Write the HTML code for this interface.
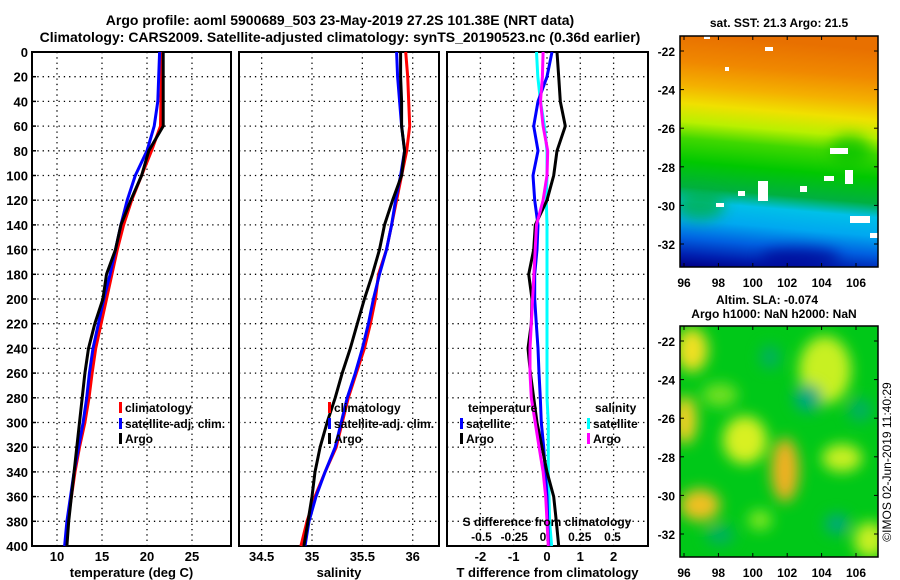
<!DOCTYPE html>
<html><head><meta charset="utf-8">
<style>
html,body{margin:0;padding:0;background:#fff;}
svg{display:block;font-family:"Liberation Sans",sans-serif;font-weight:bold;}
</style></head>
<body>
<svg id="chart" width="900" height="580" viewBox="0 0 900 580" xmlns="http://www.w3.org/2000/svg">
<defs>
<linearGradient id="sstGrad" gradientUnits="userSpaceOnUse" x1="715" y1="36" x2="695" y2="267">
<stop offset="0" stop-color="#e87000"/>
<stop offset="0.12" stop-color="#f08800"/>
<stop offset="0.22" stop-color="#f4b000"/>
<stop offset="0.3" stop-color="#f0e000"/>
<stop offset="0.38" stop-color="#b8f000"/>
<stop offset="0.45" stop-color="#40d800"/>
<stop offset="0.55" stop-color="#00c800"/>
<stop offset="0.66" stop-color="#00b040"/>
<stop offset="0.72" stop-color="#00c0e8"/>
<stop offset="0.8" stop-color="#00a8f0"/>
<stop offset="0.88" stop-color="#0060e0"/>
<stop offset="0.95" stop-color="#0020b0"/>
<stop offset="1" stop-color="#000088"/>
</linearGradient>
<filter id="blur" x="-20%" y="-20%" width="140%" height="140%"><feGaussianBlur stdDeviation="7"/></filter>
<clipPath id="clipTop"><rect x="680" y="36" width="198" height="231"/></clipPath>
<clipPath id="clipBot"><rect x="680" y="326" width="198" height="231"/></clipPath>
</defs>
<text x="340" y="25" text-anchor="middle" font-size="14">Argo profile: aoml 5900689_503 23-May-2019 27.2S 101.38E (NRT data)</text>
<text x="340" y="42" text-anchor="middle" font-size="14">Climatology: CARS2009. Satellite-adjusted climatology: synTS_20190523.nc (0.36d earlier)</text>
<g id="profiles"></g>
<g id="maps"></g>
<text transform="translate(891,462) rotate(-90)" text-anchor="middle" font-size="12" font-weight="normal">©IMOS 02-Jun-2019 11:40:29</text>
</svg>
<script>
const depths=[0,20,40,60,80,100,120,140,160,180,200,220,240,260,280,300,320,340,360,380,400];
const tempClim=[21.6,21.6,21.55,21.5,20.5,19.4,18.3,17.4,16.7,16.1,15.5,14.9,14.3,13.9,13.55,13.1,12.5,12.0,11.6,11.2,10.9];
const tempSat=[21.4,21.3,21.2,20.8,20.0,18.7,17.8,17.1,16.5,15.9,15.2,14.6,14.0,13.6,13.3,12.9,12.4,11.9,11.5,11.1,10.85];
const tempArgo=[21.8,21.8,21.8,21.8,20.2,19.4,18.2,17.1,16.5,15.5,15.1,14.2,13.5,13.1,12.8,12.5,12.2,11.9,11.6,11.3,11.1];
const salClim=[35.93,35.95,35.96,35.97,35.94,35.89,35.84,35.79,35.74,35.66,35.63,35.58,35.52,35.44,35.36,35.3,35.24,35.13,35.03,34.95,34.89];
const salSat=[35.84,35.85,35.87,35.89,35.92,35.88,35.83,35.79,35.74,35.67,35.61,35.56,35.5,35.43,35.35,35.29,35.23,35.13,35.04,34.97,34.93];
const salArgo=[35.88,35.88,35.89,35.89,35.92,35.89,35.80,35.72,35.67,35.6,35.52,35.45,35.38,35.3,35.23,35.15,35.08,35.03,35.0,34.96,34.92];
const dTSat=[0.15,0,-0.27,-0.4,-0.27,-0.42,-0.37,-0.27,-0.3,-0.37,-0.37,-0.32,-0.27,-0.24,-0.2,-0.17,-0.1,-0.05,0,0.02,0.05];
const dTArgo=[0.3,0.35,0.4,0.55,0.3,0.2,0,-0.35,-0.4,-0.55,-0.45,-0.47,-0.57,-0.5,-0.4,-0.3,-0.15,0,0.2,0.28,0.35];
const dSSat=[-0.08,-0.07,-0.05,-0.02,0,0,-0.005,0,0,0,0,0,0,0,0,0.01,0.01,0.01,0.015,0.02,0.035];
const dSArgo=[-0.03,-0.035,-0.05,-0.03,0.005,0,-0.03,-0.08,-0.09,-0.1,-0.11,-0.12,-0.13,-0.13,-0.12,-0.09,-0.06,-0.03,-0.01,0,0.01];
const depthTicks=[0,20,40,60,80,100,120,140,160,180,200,220,240,260,280,300,320,340,360,380,400];
const tempTicks=[10,15,20,25];
const salTicks=[34.5,35,35.5,36];
const dTTicks=[-2,-1,0,1,2];
const dSTicks=[-0.5,-0.25,0,0.25,0.5];
const dSTickLabels=["-0.5","-0.25","0","0.25","0.5"];
const lonTicks=[96,98,100,102,104,106];
const latTicks=[-22,-24,-26,-28,-30,-32];

const NS="http://www.w3.org/2000/svg";
function mk(tag,attrs,parent){const e=document.createElementNS(NS,tag);for(const k in attrs)e.setAttribute(k,attrs[k]);parent.appendChild(e);return e;}
const Y0=52,Y1=546;
const yD=d=>Y0+d/400*(Y1-Y0);
const xT=t=>57+(t-10)*9;
const xS=s=>312+(s-35)*100.7;
const xDT=t=>547+t*33.3;
const xDS=s=>547+s*131;
const G=document.getElementById('profiles');

function panel(x0,x1,name,ticks,xf,labels,ylab){
  const g=mk('g',{},G);
  
  
  depthTicks.forEach(d=>{if(d>0&&d<400){const l=mk('line',{x1:x0,x2:x1,y1:yD(d),y2:yD(d),stroke:'#000','stroke-width':1.3,'stroke-dasharray':'1.3,4'},g);}});
  ticks.forEach((t,i)=>{const x=xf(t);const l=mk('line',{x1:x,x2:x,y1:Y0,y2:Y1,stroke:'#000','stroke-width':1.3,'stroke-dasharray':'1.3,4'},g);
    if(labels){const tx=mk('text',{x:x,y:561,'text-anchor':'middle','font-size':13},g);tx.textContent=labels[i];}});
  const r=mk('rect',{x:x0,y:Y0,width:x1-x0,height:Y1-Y0,fill:'none',stroke:'#000','stroke-width':2},g);
  
  if(ylab){const t=mk('text',{x:(x0+x1)/2,y:577,'text-anchor':'middle','font-size':13},g);t.textContent=ylab;}
  return g;
}
function series(g,vals,xf,color,name){
  const pts=vals.map((v,i)=>xf(v).toFixed(1)+','+yD(depths[i]).toFixed(1)).join(' ');
  const p=mk('polyline',{points:pts,fill:'none',stroke:color,'stroke-width':3,'stroke-linejoin':'round'},g);
  
  
}
function legend(g,x,y,color,label){
  const r=mk('rect',{x:x,y:y-10,width:3,height:11,fill:color},g);
  
  const t=mk('text',{x:x+6,y:y,'font-size':12},g);t.textContent=label;
  
}
depthTicks.forEach(d=>{const t=mk('text',{x:28,y:yD(d)+5,'text-anchor':'end','font-size':13},G);t.textContent=d;
  
  const l=mk('line',{x1:32,x2:36,y1:yD(d),y2:yD(d),stroke:'#000','stroke-width':1.5},G);});

const g1=panel(32,231,'temperature-panel',tempTicks,xT,tempTicks.map(String),'temperature (deg C)');
series(g1,tempClim,xT,'#ff0000','temp-climatology-line');
series(g1,tempSat,xT,'#0000ff','temp-satellite-line');
series(g1,tempArgo,xT,'#000000','temp-argo-line');
legend(g1,119,412,'#ff0000','climatology');legend(g1,119,428,'#0000ff','satellite-adj. clim.');legend(g1,119,443,'#000','Argo');

const g2=panel(239,439,'salinity-panel',salTicks,xS,salTicks.map(String),'salinity');
series(g2,salClim,xS,'#ff0000','sal-climatology-line');
series(g2,salSat,xS,'#0000ff','sal-satellite-line');
series(g2,salArgo,xS,'#000000','sal-argo-line');
legend(g2,328,412,'#ff0000','climatology');legend(g2,328,428,'#0000ff','satellite-adj. clim.');legend(g2,328,443,'#000','Argo');

const g3=panel(447,648,'difference-panel',dTTicks,xDT,dTTicks.map(String),'T difference from climatology');
series(g3,dSSat,xDS,'#00ffff','sal-diff-satellite-line');
series(g3,dTSat,xDT,'#0000ff','temp-diff-satellite-line');
series(g3,dTArgo,xDT,'#000000','temp-diff-argo-line');
series(g3,dSArgo,xDS,'#ff00ff','sal-diff-argo-line');
{const t=mk('text',{x:468,y:412,'font-size':12},g3);t.textContent='temperature';}
{const t=mk('text',{x:595,y:412,'font-size':12},g3);t.textContent='salinity';}
legend(g3,460,428,'#0000ff','satellite');legend(g3,460,443,'#000','Argo');
legend(g3,587,428,'#00ffff','satellite');legend(g3,587,443,'#ff00ff','Argo');
{const t=mk('text',{x:547,y:526,'text-anchor':'middle','font-size':12},g3);t.textContent='S difference from climatology';}
dSTicks.forEach((s,i)=>{const t=mk('text',{x:xDS(s)-(s==0?4:0),y:541,'text-anchor':'middle','font-size':12},g3);t.textContent=dSTickLabels[i];});

const M=document.getElementById('maps');
const lonX=l=>684+(l-96)*17.2;
function mapAxes(top,name){
  const latY=l=>top+15+(-22-l)*19.3;
  const r=mk('rect',{x:680,y:top,width:198,height:231,fill:'none',stroke:'#000','stroke-width':1.5},M);
  
  latTicks.forEach(l=>{const y=latY(l);const t=mk('text',{x:675,y:y+5,'text-anchor':'end','font-size':12},M);t.textContent=l;
    mk('line',{x1:680,x2:684,y1:y,y2:y,stroke:'#000'},M);mk('line',{x1:874,x2:878,y1:y,y2:y,stroke:'#000'},M);});
  lonTicks.forEach(l=>{const x=lonX(l);const t=mk('text',{x:x,y:top+251,'text-anchor':'middle','font-size':12},M);t.textContent=l;
    mk('line',{x1:x,x2:x,y1:top,y2:top+4,stroke:'#000'},M);mk('line',{x1:x,x2:x,y1:top+227,y2:top+231,stroke:'#000'},M);});
}
{const g=mk('g',{'clip-path':'url(#clipTop)'},M);
 mk('rect',{x:680,y:36,width:198,height:231,fill:'url(#sstGrad)'},g);
 const bl=mk('g',{filter:'url(#blur)',opacity:0.7},g);
 [[700,205,25,15,'#00b030'],[850,150,20,15,'#00c000'],[800,258,40,10,'#000090']].forEach(e=>mk('ellipse',{cx:e[0],cy:e[1],rx:e[2],ry:e[3],fill:e[4]},bl));
 const patches=[[758,181,10,20],[830,148,18,6],[716,203,8,4],[738,191,7,5],[800,186,7,6],[845,170,8,14],[870,233,10,5],[850,216,20,7],[704,36,6,3],[765,47,8,4],[725,67,4,4],[824,176,10,5]];
 patches.forEach(p=>{const r=mk('rect',{x:p[0],y:p[1],width:p[2],height:p[3],fill:'#fff'},g);});
}
mapAxes(36,'sst-map');
{const t=mk('text',{x:779,y:27,'text-anchor':'middle','font-size':12},M);t.textContent='sat. SST: 21.3 Argo: 21.5';}
{const g=mk('g',{'clip-path':'url(#clipBot)'},M);
 mk('rect',{x:680,y:326,width:198,height:231,fill:'#00c818'},g);
 const bl=mk('g',{filter:'url(#blur)'},g);
 [[692,350,16,22,'#f0e020'],[685,420,12,24,'#f0d020'],[745,440,22,24,'#d8f020'],[785,470,14,32,'#f0b020'],[700,505,20,16,'#f0c020'],[825,370,26,34,'#c8f020'],[842,458,20,14,'#c8f020'],[870,540,16,18,'#c8f020'],[720,395,18,12,'#70e020'],[760,520,12,10,'#80e820']].forEach(e=>mk('ellipse',{cx:e[0],cy:e[1],rx:e[2],ry:e[3],fill:e[4]},bl));
 [[808,398,14,14,'#00a880'],[837,524,12,10,'#00a880'],[770,357,10,12,'#00b060'],[720,535,14,10,'#00b060'],[860,410,12,12,'#00b060']].forEach(e=>mk('ellipse',{cx:e[0],cy:e[1],rx:e[2],ry:e[3],fill:e[4]},bl));
}
mapAxes(326,'sla-map');
{const t=mk('text',{x:767,y:304,'text-anchor':'middle','font-size':12},M);t.textContent='Altim. SLA: -0.074';}
{const t=mk('text',{x:774,y:318,'text-anchor':'middle','font-size':12},M);t.textContent='Argo h1000: NaN h2000: NaN';}
</script>
</body></html>
